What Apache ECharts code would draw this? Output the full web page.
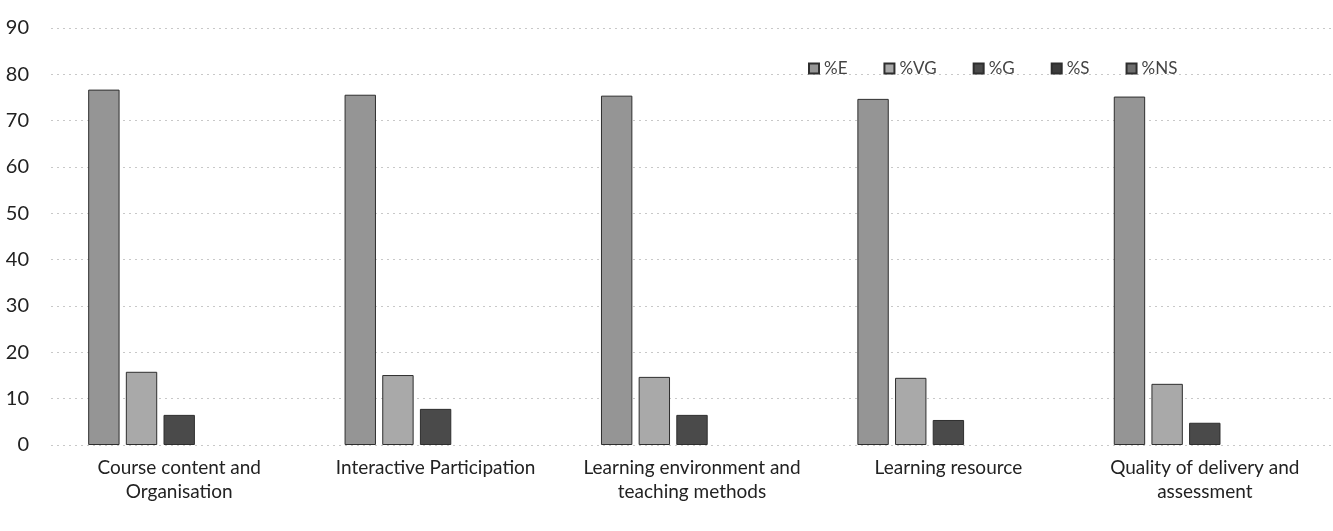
<!DOCTYPE html>
<html>
<head>
<meta charset="utf-8">
<script src="https://cdn.jsdelivr.net/npm/echarts@6/dist/echarts.min.js"></script>
<style>
  html, body { margin: 0; padding: 0; background: #ffffff; }
  #chart { width: 1333px; height: 531px; }
</style>
</head>
<body>
<div id="chart"></div>
<script>
const categories = [
  'Course content and\nOrganisation',
  'Interactive Participation',
  'Learning environment and\nteaching methods',
  'Learning resource',
  'Quality of delivery and\nassessment'
];
const seriesNames = ['%E', '%VG', '%G', '%S', '%NS'];
const valuesE  = [76.7, 75.6, 75.4, 74.7, 75.2];
const valuesVG = [15.8, 15.1, 14.7, 14.5, 13.2];
const valuesG  = [6.5, 7.8, 6.5, 5.4, 4.8];
const valuesS  = [0, 0, 0, 0, 0];
const valuesNS = [0, 0, 0, 0, 0];
const yTicks = { min: 0, max: 90, interval: 10 };

const colors = ['#959595', '#a9a9a9', '#4a4a4a', '#3c3c3c', '#6e6e6e'];
const allValues = [valuesE, valuesVG, valuesG, valuesS, valuesNS];

const chart = echarts.init(document.getElementById('chart'), null, { renderer: 'canvas' });
const font = 'Lato, "Open Sans", sans-serif';

chart.setOption({
  animation: false,
  backgroundColor: '#ffffff',
  color: colors,
  legend: {
    left: 803,
    top: 55,
    itemWidth: 10,
    itemHeight: 10,
    itemGap: 36,
    icon: 'rect',
    textStyle: { fontFamily: font, fontSize: 17, color: '#444' },
    data: seriesNames
  },
  grid: { left: 51, right: -18, top: 28, bottom: 86, containLabel: false },
  xAxis: {
    type: 'category',
    data: categories,
    axisLine: { show: false },
    axisTick: { show: false },
    axisLabel: {
      interval: 0,
      margin: 11,
      fontFamily: font,
      fontSize: 19,
      lineHeight: 24,
      color: '#222'
    }
  },
  yAxis: {
    type: 'value',
    min: yTicks.min,
    max: yTicks.max,
    interval: yTicks.interval,
    axisLine: { show: false },
    axisTick: { show: false },
    axisLabel: { margin: 22, fontFamily: font, fontSize: 20, color: '#222' },
    splitLine: { lineStyle: { type: [2, 4], color: '#c8c8c8', width: 1 } }
  },
  series: seriesNames.map((name, i) => ({
    name: name,
    type: 'bar',
    data: allValues[i].map(v => v === 0 ? { value: v, itemStyle: { borderWidth: 0 } } : v),
    barGap: '20%',
    barCategoryGap: '29%',
    itemStyle: { color: colors[i], borderColor: '#2e2e2e', borderWidth: 1 }
  }))
});
</script>
</body>
</html>
